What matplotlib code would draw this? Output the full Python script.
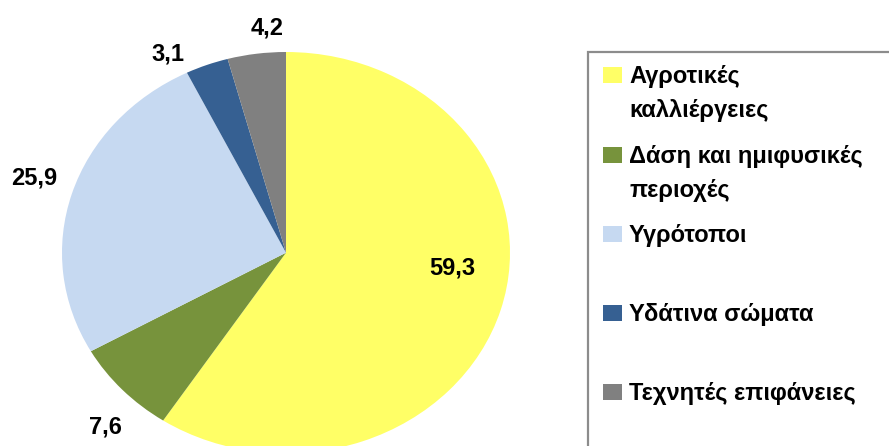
import matplotlib
matplotlib.use("Agg")
import matplotlib.pyplot as plt
from matplotlib.patches import Rectangle

# data
categories = ["Αγροτικές\nκαλλιέργειες", "Δάση και ημιφυσικές\nπεριοχές",
              "Υγρότοποι", "Υδάτινα σώματα", "Τεχνητές επιφάνειες"]
values = [59.3, 7.6, 25.9, 3.1, 4.2]
colors = ["#FFFF66", "#77933C", "#C6D9F1", "#366092", "#808080"]
value_labels = ["59,3", "7,6", "25,9", "3,1", "4,2"]

# label positions in pie units (layout)
label_pos = [(0.741, -0.076), (-0.808, -0.868), (-1.125, 0.372),
             (-0.527, 0.99), (-0.085, 1.122)]

plt.rcParams['font.family'] = ['Liberation Sans', 'DejaVu Sans']
FS = 17

W, H = 889, 446
fig = plt.figure(figsize=(W / 100, H / 100), dpi=100)


def fx(px):
    return px / W


def fy(py):
    return 1 - py / H


# pie drawn as a slightly flattened ellipse, like the original
cx, cy, rx, ry = 286, 252.7, 224, 200.7
ax = fig.add_axes([fx(cx - rx), fy(cy + ry), 2 * rx / W, 2 * ry / H])
ax.pie(values, colors=colors, startangle=90, counterclock=False,
       wedgeprops=dict(linewidth=0))
ax.set_aspect('auto')
ax.set_xlim(-1, 1)
ax.set_ylim(-1, 1)
ax.axis('off')

for (x, y), t in zip(label_pos, value_labels):
    ax.text(x, y, t, ha='center', va='center', fontsize=FS,
            fontweight='bold', clip_on=False)

# legend box (runs off the right/bottom edge in the original)
fig.patches.append(Rectangle((fx(588), fy(470)), fx(400), 418 / H,
                             transform=fig.transFigure, fill=False,
                             edgecolor='#8C8C8C', linewidth=1.6))

tops = [67, 147, 226, 305, 384]
for top, lab, c in zip(tops, categories, colors):
    fig.patches.append(Rectangle((fx(603), fy(top + 16)), 19 / W, 16 / H,
                                 transform=fig.transFigure, facecolor=c,
                                 edgecolor='none'))
    for i, line in enumerate(lab.split("\n")):
        fig.text(fx(629), fy(top + 16 + 34 * i), line, ha='left',
                 va='baseline', fontsize=FS, fontweight='bold')

fig.savefig("out.png", dpi=100)
